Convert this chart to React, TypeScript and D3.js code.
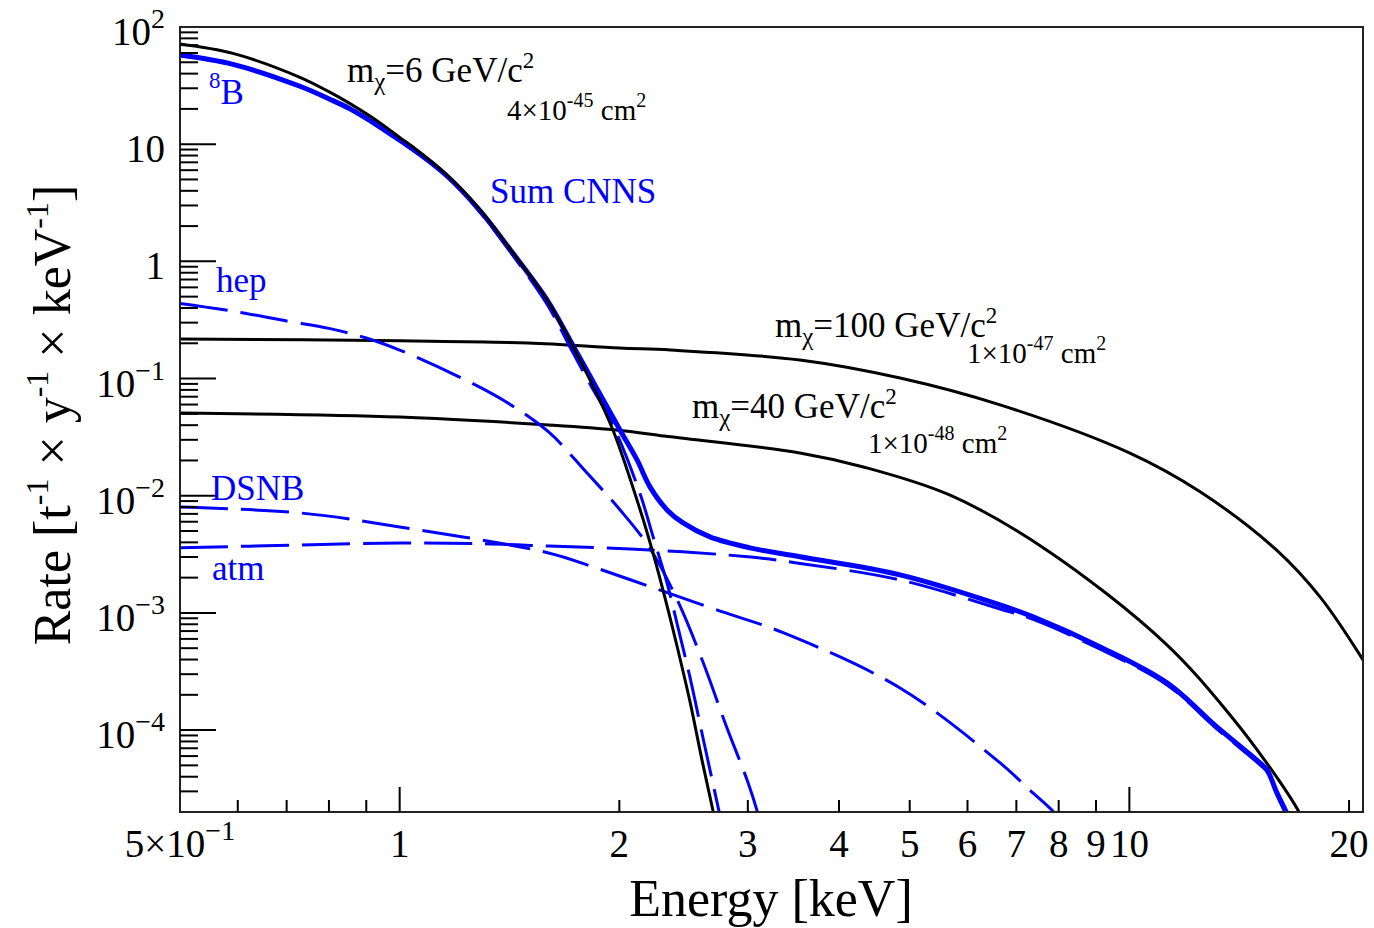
import React from 'react';
import * as d3 from 'd3';

// recoil spectra (energy in keV, rate in t^-1 y^-1 keV^-1)
const wimp6Energy = [0.5, 0.591, 0.73, 0.802, 0.855, 0.94, 1.0, 1.043, 1.161, 1.289, 1.43, 1.592, 1.729, 1.823, 1.96, 2.134, 2.224, 2.325, 2.407, 2.5, 2.6, 2.69, 2.77];
const wimp6Rate = [71.6, 59.5, 37.2, 27.8, 22.2, 15.2, 11.4, 9.46, 5.46, 2.75, 1.18, 0.469, 0.186, 0.0973, 0.0364, 0.0077, 0.00325, 0.00115, 0.00048, 0.000174, 0.000053, 0.00002, 0.0000082];

const wimp100Energy = [0.5, 1.0, 1.5, 2.0, 2.35, 3.536, 4.85, 6.65, 10.0, 12.5, 15.9, 18.25, 20.9];
const wimp100Rate = [0.218, 0.21, 0.201, 0.182, 0.175, 0.144, 0.101, 0.0596, 0.0232, 0.0108, 0.00345, 0.00137, 0.000397];

const wimp40Energy = [0.5, 1.0, 1.6, 1.98, 2.35, 3.536, 4.32, 5.68, 7.7, 11.2, 13.8, 15.9, 17.1, 17.6];
const wimp40Rate = [0.0508, 0.047, 0.0402, 0.0364, 0.0318, 0.0232, 0.0176, 0.0101, 0.00345, 0.00055, 0.00013, 0.00004, 0.0000197, 0.000013];

const sumEnergy = [0.5, 0.591, 0.73, 0.802, 0.855, 0.94, 1.0, 1.043, 1.161, 1.289, 1.43, 1.592, 1.729, 1.823, 1.9, 2.004, 2.115, 2.203, 2.325, 2.446, 2.662, 3.02, 3.536, 4.85, 6.65, 7.38, 9.12, 11.26, 13.19, 15.1, 15.44, 15.93, 16.7];
const sumRate = [57.7, 48, 31.2, 24.2, 20.0, 14.0, 10.8, 9.1, 5.35, 2.7, 1.17, 0.47, 0.19, 0.105, 0.066, 0.0364, 0.0202, 0.0119, 0.00757, 0.00586, 0.00445, 0.00359, 0.00301, 0.00211, 0.00117, 0.000925, 0.000513, 0.000253, 0.000106, 0.0000525, 0.0000457, 0.0000291, 0.000016];

const b8Energy = [0.5, 0.591, 0.73, 0.855, 1.0, 1.161, 1.289, 1.43, 1.592, 1.729, 1.823, 1.96, 2.134, 2.224, 2.325, 2.407, 2.5, 2.6, 2.69, 2.75, 2.8];
const b8Rate = [57.2, 47.6, 30.9, 19.8, 10.6, 5.3, 2.62, 1.12, 0.43, 0.165, 0.09, 0.04, 0.0105, 0.0045, 0.0018, 0.00075, 0.00028, 0.00009, 0.000034, 0.000018, 0.00001];

const hepEnergy = [0.5, 0.6, 0.7, 0.8, 0.9, 1.0, 1.2, 1.4, 1.6, 1.8, 2.0, 2.2, 2.4, 2.6, 2.8, 3.0, 3.1, 3.2];
const hepRate = [0.437, 0.37, 0.31, 0.268, 0.222, 0.175, 0.105, 0.063, 0.035, 0.016, 0.0077, 0.0036, 0.0013, 0.00039, 0.00011, 0.000036, 0.000019, 0.000009];

const dsnbEnergy = [0.5, 0.73, 1.0, 1.6, 1.84, 2.27, 2.72, 3.36, 4.85, 6.65, 7.3, 7.88, 8.2];
const dsnbRate = [0.008, 0.00713, 0.00542, 0.00325, 0.00247, 0.00157, 0.00106, 0.000675, 0.000229, 0.0000525, 0.0000309, 0.00002, 0.000015];

const atmEnergy = [0.5, 0.73, 1.0, 1.3, 1.6, 2.2, 3.0, 3.5, 4.85, 6.65, 7.38, 9.12, 11.26, 13.19, 15.1, 15.44, 15.93, 16.7];
const atmRate = [0.00359, 0.0038, 0.00395, 0.0039, 0.00372, 0.00345, 0.00301, 0.00267, 0.00191, 0.00108, 0.00088, 0.00049, 0.000243, 0.000102, 0.0000505, 0.000044, 0.000028, 0.000015];

// axes
const xMajorTicks = [1, 10];
const xMinorTicks = [0.6, 0.7, 0.8, 0.9, 2, 3, 4, 5, 6, 7, 8, 9, 20];
const xTickLabels = [
  { v: 0.5, base: '5×10', exp: '−1' },
  { v: 1, base: '1' }, { v: 2, base: '2' }, { v: 3, base: '3' }, { v: 4, base: '4' },
  { v: 5, base: '5' }, { v: 6, base: '6' }, { v: 7, base: '7' }, { v: 8, base: '8' },
  { v: 9, base: '9' }, { v: 10, base: '10' }, { v: 20, base: '20' },
];
const yTickLabels = [
  { v: 100, base: '10', exp: '2' },
  { v: 10, base: '10' },
  { v: 1, base: '1' },
  { v: 0.1, base: '10', exp: '−1' },
  { v: 0.01, base: '10', exp: '−2' },
  { v: 0.001, base: '10', exp: '−3' },
  { v: 0.0001, base: '10', exp: '−4' },
];

const W = 1374;
const H = 928;
const plot = { left: 180, right: 1363, top: 27, bottom: 812 };
const FONT = "'Liberation Serif', 'Times New Roman', Times, serif";
const BLUE = '#0000ff';

const x = d3.scaleLog().domain([0.5, 20.9]).range([plot.left, plot.right]);
const y = d3.scaleLog().domain([2e-5, 100]).range([plot.bottom, plot.top]);

const line = d3.line<[number, number]>()
  .x(d => x(d[0]))
  .y(d => y(d[1]))
  .curve(d3.curveCatmullRom.alpha(0.5));

const zip = (e: number[], r: number[]) => e.map((v, i) => [v, r[i]] as [number, number]);

const CrossSection = ({ x0, y0, pre, exp }) => (
  <text x={x0} y={y0} fontSize={29} fontFamily={FONT} fill="#000">
    {pre}<tspan dy={-13} fontSize={20}>{exp}</tspan>
    <tspan dy={13}> cm</tspan>
    <tspan dy={-13} fontSize={20}>2</tspan>
  </text>
);

const MassLabel = ({ x0, y0, mass }) => (
  <text x={x0} y={y0} fontSize={35} fontFamily={FONT} fill="#000">
    m<tspan dy={8} fontSize={25}>χ</tspan>
    <tspan dy={-8}>={mass} GeV/c</tspan>
    <tspan dy={-14} fontSize={23}>2</tspan>
  </text>
);

export default function App() {
  const yMinor: number[] = [];
  for (let k = -5; k <= 1; k++) {
    for (let m = 2; m <= 9; m++) {
      const v = m * Math.pow(10, k);
      if (v > 2e-5 && v < 100) yMinor.push(v);
    }
  }
  const yMajor = yTickLabels.map(d => d.v).filter(v => v < 100);

  return (
    <svg width={W} height={H} style={{ position: 'absolute', left: 0, top: 0, background: '#fff' }}>
      <defs>
        <clipPath id="plotclip">
          <rect x={plot.left} y={plot.top} width={plot.right - plot.left} height={plot.bottom - plot.top} />
        </clipPath>
      </defs>
      <rect width={W} height={H} fill="#fff" />

      <g clipPath="url(#plotclip)" fill="none" strokeLinejoin="round">
        <path d={line(zip(wimp100Energy, wimp100Rate)) || ''} stroke="#000" strokeWidth={3} />
        <path d={line(zip(wimp40Energy, wimp40Rate)) || ''} stroke="#000" strokeWidth={3} />
        <path d={line(zip(atmEnergy, atmRate)) || ''} stroke={BLUE} strokeWidth={3} strokeDasharray="48 13" />
        <path d={line(zip(dsnbEnergy, dsnbRate)) || ''} stroke={BLUE} strokeWidth={3} strokeDasharray="48 13" />
        <path d={line(zip(hepEnergy, hepRate)) || ''} stroke={BLUE} strokeWidth={3} strokeDasharray="48 13" />
        <path d={line(zip(b8Energy, b8Rate)) || ''} stroke={BLUE} strokeWidth={3} strokeDasharray="48 13" />
        <path d={line(zip(sumEnergy, sumRate)) || ''} stroke={BLUE} strokeWidth={5} />
        <path d={line(zip(wimp6Energy, wimp6Rate)) || ''} stroke="#000" strokeWidth={3} />
      </g>

      {/* frame */}
      <rect x={plot.left} y={plot.top} width={plot.right - plot.left} height={plot.bottom - plot.top}
        fill="none" stroke="#222" strokeWidth={2} />

      {/* ticks */}
      <g stroke="#000" strokeWidth={2}>
        {yMajor.map(v => (
          <line key={'ym' + v} x1={plot.left} x2={plot.left + 36} y1={y(v)} y2={y(v)} />
        ))}
        {yMinor.map(v => (
          <line key={'yn' + v} x1={plot.left} x2={plot.left + 18} y1={y(v)} y2={y(v)} />
        ))}
        {xMajorTicks.map(v => (
          <line key={'xm' + v} x1={x(v)} x2={x(v)} y1={plot.bottom} y2={plot.bottom - 25} />
        ))}
        {xMinorTicks.map(v => (
          <line key={'xn' + v} x1={x(v)} x2={x(v)} y1={plot.bottom} y2={plot.bottom - 12} />
        ))}
      </g>

      {/* tick labels */}
      <g fontFamily={FONT} fill="#000">
        {yTickLabels.map(d => (
          <text key={'yl' + d.v} x={165} y={y(d.v) + 18} fontSize={39} textAnchor="end">
            {d.base}
            {d.exp && <tspan dy={-17} fontSize={28}>{d.exp}</tspan>}
          </text>
        ))}
        {xTickLabels.map(d => (
          <text key={'xl' + d.v} x={x(d.v)} y={857} fontSize={39} textAnchor="middle">
            {d.base}
            {d.exp && <tspan dy={-17} fontSize={28}>{d.exp}</tspan>}
          </text>
        ))}
      </g>

      {/* axis titles */}
      <text x={771} y={916} fontSize={52} fontFamily={FONT} textAnchor="middle" fill="#000">Energy [keV]</text>
      <text transform="translate(70,415) rotate(-90)" fontSize={52} fontFamily={FONT} textAnchor="middle" fill="#000">
        Rate [t<tspan dy={-22} fontSize={32}>-1</tspan>
        <tspan dy={22}> × y</tspan><tspan dy={-22} fontSize={32}>-1</tspan>
        <tspan dy={22}> × keV</tspan><tspan dy={-22} fontSize={32}>-1</tspan>
        <tspan dy={22}>]</tspan>
      </text>

      {/* WIMP annotations */}
      <MassLabel x0={347} y0={82} mass="6" />
      <CrossSection x0={507} y0={120} pre="4×10" exp="-45" />
      <MassLabel x0={775} y0={337} mass="100" />
      <CrossSection x0={967} y0={363} pre="1×10" exp="-47" />
      <MassLabel x0={692} y0={418} mass="40" />
      <CrossSection x0={868} y0={453} pre="1×10" exp="-48" />

      {/* neutrino annotations */}
      <g fontFamily={FONT} fill={BLUE} fontSize={35}>
        <text x={490} y={203}>Sum CNNS</text>
        <text x={209} y={104}><tspan dy={-16} fontSize={23}>8</tspan><tspan dy={16}>B</tspan></text>
        <text x={216} y={292}>hep</text>
        <text x={211} y={500}>DSNB</text>
        <text x={212} y={580}>atm</text>
      </g>
    </svg>
  );
}
